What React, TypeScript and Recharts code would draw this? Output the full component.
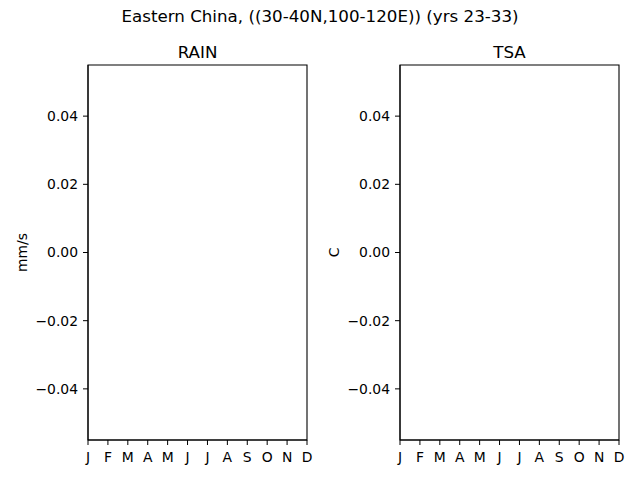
import { LineChart, Line, XAxis, YAxis, ReferenceArea } from 'recharts';

// no data in this period: both series are empty
const months = [1, 2, 3, 4, 5, 6, 7, 8, 9, 10, 11, 12];
const monthLabels = ['J', 'F', 'M', 'A', 'M', 'J', 'J', 'A', 'S', 'O', 'N', 'D'];
const rainValues: (number | null)[] = [null, null, null, null, null, null, null, null, null, null, null, null];
const tsaValues: (number | null)[] = [null, null, null, null, null, null, null, null, null, null, null, null];
const yTicks = [-0.04, -0.02, 0, 0.02, 0.04];
const yDomain = [-0.055, 0.055];

const FONT = '"DejaVu Sans", sans-serif';

const fmtY = (v: number) => v.toFixed(2).replace('-', '\u2212');
const fmtX = (v: number) => monthLabels[v - 1];

interface PanelProps {
    title: string;
    unit: string;
    unitX: number;
    values: (number | null)[];
    left: number;
    yWidth: number;
    right: number;
}

function Panel(props: PanelProps) {
    const data = months.map((m, i) => ({ month: m, value: props.values[i] }));
    const tickStyle = { fill: '#000', fontSize: 13.9, fontFamily: FONT };
    const plotLeft = props.left + props.yWidth;
    const plotWidth = 320 - props.yWidth - props.right;

    return (
        <>
            <div style={{ position: 'absolute', left: plotLeft, top: 42, width: plotWidth, textAlign: 'center', fontFamily: FONT, fontSize: 16.7, lineHeight: '20px' }}>
                {props.title}
            </div>
            <div style={{ position: 'absolute', left: props.left, top: 0 }}>
                <LineChart width={320} height={480} data={data} margin={{ top: 65, right: props.right, bottom: 0, left: 0 }}>
                    <XAxis dataKey="month" type="number" domain={[1, 12]} ticks={months} tickFormatter={fmtX}
                        height={40} tickSize={5} tickMargin={7} interval={0}
                        stroke="#000" tick={tickStyle} axisLine={{ stroke: '#000' }} tickLine={{ stroke: '#000' }} />
                    <YAxis type="number" domain={yDomain} ticks={yTicks} tickFormatter={fmtY} allowDataOverflow
                        width={props.yWidth} tickSize={5} tickMargin={5}
                        stroke="#000" tick={tickStyle} axisLine={{ stroke: '#000' }} tickLine={{ stroke: '#000' }}
                        label={{
                            content: ({ viewBox }: any) => (
                                <text x={viewBox.x + props.unitX} y={viewBox.y + viewBox.height / 2}
                                    transform={`rotate(-90, ${viewBox.x + props.unitX}, ${viewBox.y + viewBox.height / 2})`}
                                    textAnchor="middle" dominantBaseline="central"
                                    fontSize={13.9} fontFamily={FONT} fill="#000">
                                    {props.unit}
                                </text>
                            ),
                        }} />
                    {/* frame round the axes (matplotlib spines) */}
                    <ReferenceArea x1={1} x2={12} y1={yDomain[0]} y2={yDomain[1]} fill="none" fillOpacity={0}
                        stroke="#000" strokeWidth={1.1} ifOverflow="visible" />
                    <Line dataKey="value" stroke="#1f77b4" dot={false} isAnimationActive={false} connectNulls={false} />
                </LineChart>
            </div>
        </>
    );
}

export default function App() {
    return (
        <div style={{ position: 'absolute', left: 0, top: 0, width: 640, height: 480, background: '#fff' }}>
            <div style={{ position: 'absolute', left: 0, top: 6, width: 640, textAlign: 'center', fontFamily: FONT, fontSize: 16.7, lineHeight: '20px' }}>
                Eastern China, ((30-40N,100-120E)) (yrs 23-33)
            </div>
            <Panel title="RAIN" unit="mm/s" unitX={22} values={rainValues} left={0} yWidth={88} right={13} />
            <Panel title="TSA" unit="C" unitX={14} values={tsaValues} left={320} yWidth={80} right={21} />
        </div>
    );
}
